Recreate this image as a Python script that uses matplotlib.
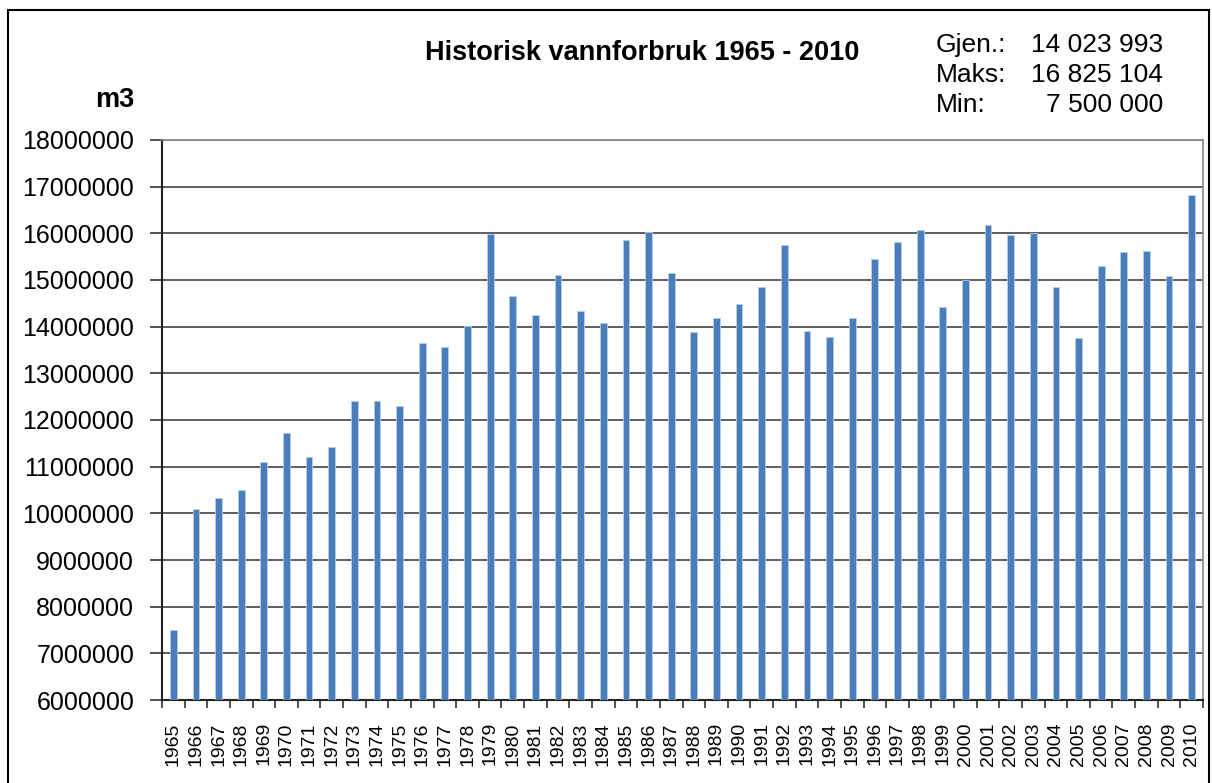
import matplotlib.pyplot as plt
from matplotlib.patches import Rectangle
import numpy as np

plt.rcParams['font.family'] = ['Liberation Sans', 'DejaVu Sans']

# data (m3 per year)
years = list(range(1965, 2011))
usage = [
    7500000, 10090000, 10320000, 10500000, 11100000, 11720000, 11200000, 11420000,
    12400000, 12400000, 12300000, 13650000, 13560000, 14020000, 15980000, 14660000,
    14240000, 15110000, 14340000, 14070000, 15860000, 16030000, 15160000, 13890000,
    14180000, 14480000, 14850000, 15750000, 13910000, 13780000, 14180000, 15440000,
    15810000, 16070000, 14420000, 15000000, 16180000, 15960000, 16000000, 14850000,
    13760000, 15300000, 15600000, 15630000, 15080000, 16825104,
]
stat_names = ["Gjen.:", "Maks:", "Min:"]
stat_values = ["14 023 993", "16 825 104", "7 500 000"]

fig = plt.figure(figsize=(12.12, 7.83), dpi=100)
ax = fig.add_axes([162 / 1212, 1 - 700 / 783, (1203 - 162) / 1212, (700 - 140) / 783])

x = np.arange(len(years))
ax.bar(x, np.array(usage) - 6000000, bottom=6000000, width=0.3,
       color='#4a7ebb', edgecolor='#b9cde5', linewidth=0.6, zorder=3)

ax.set_ylim(6000000, 18000000)
ax.set_xlim(-0.5, len(years) - 0.5)
ax.set_yticks(range(6000000, 18000001, 1000000))
ax.set_yticklabels([str(v) for v in range(6000000, 18000001, 1000000)], fontsize=18)
ax.yaxis.grid(True, color='#444444', linewidth=1.2, zorder=0)

ax.set_xticks(x)
ax.set_xticklabels([str(y) for y in years], rotation=90, fontsize=14)
ax.set_xticks(np.arange(-0.5, len(years), 1), minor=True)
ax.tick_params(axis='x', which='major', length=0, pad=16)
ax.tick_params(axis='x', which='minor', length=6, width=1.2, color='#333333')
ax.tick_params(axis='y', length=9, width=1.2, color='#333333', pad=11)

for side in ['left', 'bottom']:
    ax.spines[side].set_color('#222222')
    ax.spines[side].set_linewidth(1.5)
for side in ['top', 'right']:
    ax.spines[side].set_color('#888888')
    ax.spines[side].set_linewidth(1.2)

fig.text(642 / 1212, 1 - 53 / 783, "Historisk vannforbruk 1965 - 2010",
         ha='center', va='center', fontsize=19.5, fontweight='bold')
fig.text(115 / 1212, 1 - 100 / 783, "m3", ha='center', va='center',
         fontsize=19.5, fontweight='bold')

for i, (name, val) in enumerate(zip(stat_names, stat_values)):
    yy = 1 - (45 + i * 30) / 783
    fig.text(936 / 1212, yy, name, ha='left', va='center', fontsize=19)
    fig.text(1163 / 1212, yy, val, ha='right', va='center', fontsize=19)

# outer frame of the chart area
fig.add_artist(Rectangle((8 / 1212, -0.05), (1209 - 8) / 1212, 1.05 - 10 / 783,
                         transform=fig.transFigure, fill=False,
                         edgecolor='black', linewidth=1.5))

fig.savefig("out.png", dpi=100)
